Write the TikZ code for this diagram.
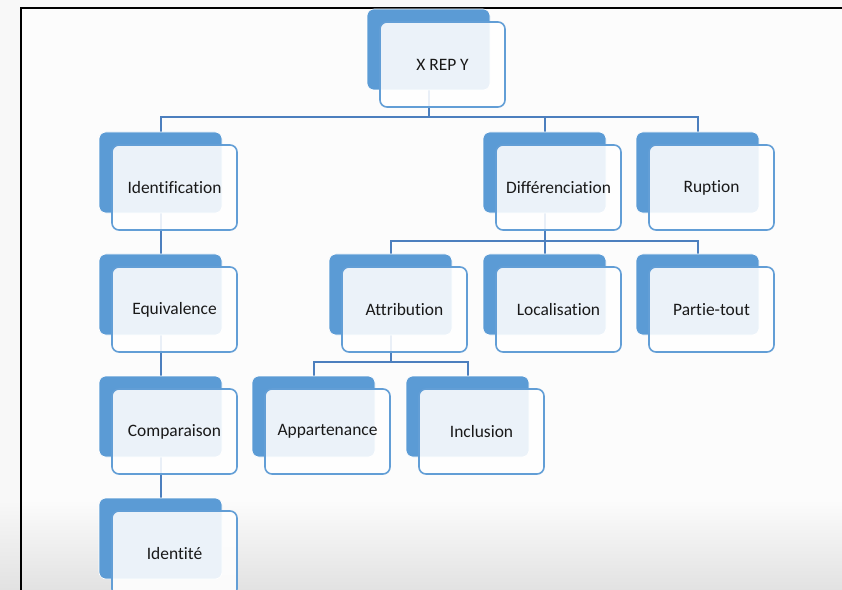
\documentclass[tikz,border=0pt]{standalone}
\usepackage{fontspec}
\setmainfont{Carlito}[Ligatures=NoCommon]
\definecolor{accent}{RGB}{91,155,213}
\definecolor{linec}{RGB}{76,127,190}
\definecolor{frontline}{RGB}{98,158,214}
\definecolor{pagebg}{RGB}{252,252,252}
\definecolor{outbg}{RGB}{248,248,248}
\definecolor{shadebot}{RGB}{226,226,226}
\pgfdeclarelayer{bglayer}
\pgfdeclarelayer{lineslayer}
\pgfsetlayers{bglayer,lineslayer,main}
\tikzset{
  backbox/.style={fill=accent, draw=white, line width=0.6bp, rounded corners=7bp,
    minimum width=123bp, minimum height=81bp, inner sep=0pt},
  frontbox/.style={fill=white, fill opacity=0.88, text opacity=1, draw=frontline,
    line width=1.6bp, rounded corners=7bp, minimum width=125bp, minimum height=85bp,
    inner sep=0pt, font=\fontsize{17.5}{20}\selectfont, text={rgb,255:red,25;green,25;blue,25}},
  conn/.style={draw=linec, line width=2bp, line join=miter}
}
\newcommand\drawitem[4]{%
  \node[backbox] (#1B) at (#2+61.5,#3+40.5) {};
  \node[frontbox] (#1) at (#2+75.5,#3+55.5) {#4};}
\begin{document}
\begin{tikzpicture}[x=1bp,y=-1bp]
\useasboundingbox (0,0) rectangle (842,590);
\begin{pgfonlayer}{bglayer}
  \fill[outbg] (0,0) rectangle (842,590);
  \fill[pagebg] (21,8) rectangle (842,590);
  \shade[top color=outbg, bottom color=shadebot] (0,500) rectangle (21,590);
  \shade[top color=pagebg, bottom color=shadebot] (21,500) rectangle (842,590);
  \draw[line width=1.6bp] (21,590) -- (21,8) -- (842,8);
\end{pgfonlayer}
\drawitem{x}{367}{9}{X REP Y}
\drawitem{id}{99}{132}{Identification}
\drawitem{di}{483}{132}{Différenciation}
\drawitem{ru}{636}{132}{Ruption}
\drawitem{eq}{99}{254}{Equivalence}
\drawitem{at}{329}{254}{Attribution}
\drawitem{lo}{483}{254}{Localisation}
\drawitem{pa}{636}{254}{Partie-tout}
\drawitem{co}{99}{376}{Comparaison}
\drawitem{ap}{252}{376}{Appartenance}
\drawitem{in}{406}{376}{Inclusion}
\drawitem{ie}{99}{498}{Identité}
\coordinate (bus1) at (0,117);
\coordinate (bus2) at (0,241);
\coordinate (bus3) at (0,362);
\begin{pgfonlayer}{lineslayer}
  \draw[conn] (xB.south) -- (xB.south |- bus1);
  \draw[conn] (idB.north) -- (idB.north |- bus1) -- (ruB.north |- bus1) -- (ruB.north);
  \draw[conn] (diB.north) -- (diB.north |- bus1);
  \draw[conn] (idB.south) -- (eqB.north);
  \draw[conn] (eqB.south) -- (coB.north);
  \draw[conn] (coB.south) -- (ieB.north);
  \draw[conn] (diB.south) -- (diB.south |- bus2);
  \draw[conn] (atB.north) -- (atB.north |- bus2) -- (paB.north |- bus2) -- (paB.north);
  \draw[conn] (loB.north) -- (loB.north |- bus2);
  \draw[conn] (atB.south) -- (atB.south |- bus3);
  \draw[conn] (apB.north) -- (apB.north |- bus3) -- (inB.north |- bus3) -- (inB.north);
\end{pgfonlayer}
\end{tikzpicture}
\end{document}
